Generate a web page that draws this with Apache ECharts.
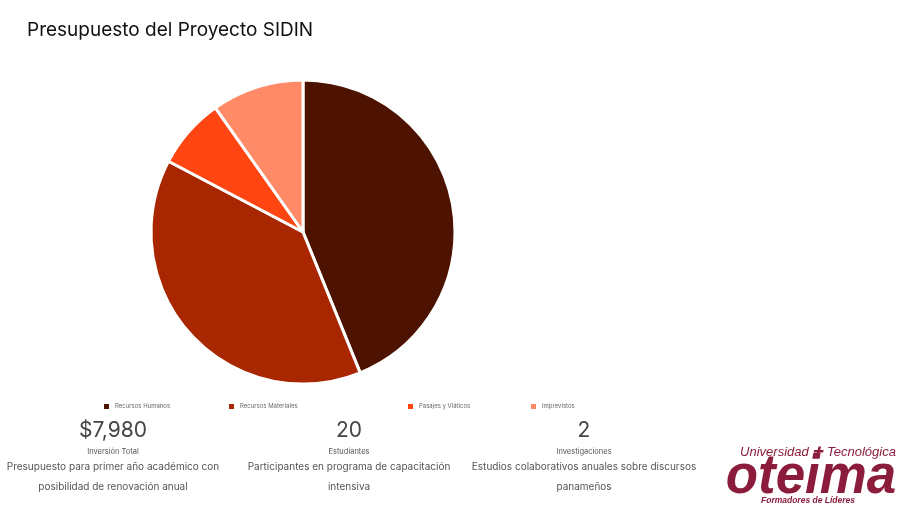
<!DOCTYPE html>
<html>
<head>
<meta charset="utf-8">
<script src="https://cdn.jsdelivr.net/npm/echarts@6/dist/echarts.min.js"></script>
<style>html,body{margin:0;padding:0;background:#fff}#main{width:900px;height:506px}</style>
</head>
<body>
<div id="main"></div>
<script>
var categories = ['Recursos Humanos', 'Recursos Materiales', 'Pasajes y Viáticos', 'Imprevistos'];
var values = [3500, 3100, 600, 780];
var colors = ['#4d1200', '#a82600', '#ff4512', '#ff8a68'];
var statNumbers = ['$7,980', '20', '2'];
var statLabels = ['Inversión Total', 'Estudiantes', 'Investigaciones'];
var statDesc = [
    ['Presupuesto para primer año académico con', 'posibilidad de renovación anual'],
    ['Participantes en programa de capacitación', 'intensiva'],
    ['Estudios colaborativos anuales sobre discursos', 'panameños']
];
var statX = [113, 349, 584];
var legendX = [102, 227, 406, 529];

var chart = echarts.init(document.getElementById('main'));

var legends = categories.map(function (c, i) {
    return {
        data: [c],
        left: legendX[i],
        top: 402,
        padding: 0,
        itemWidth: 7,
        itemHeight: 7,
        itemGap: 5,
        icon: 'rect',
        textStyle: { fontSize: 6, color: '#666', fontFamily: 'Inter' }
    };
});

var graphics = [];
statNumbers.forEach(function (n, i) {
    graphics.push({
        type: 'text', x: statX[i], y: 431,
        style: { text: n, fontSize: 21, fill: '#444', fontFamily: 'Inter', align: 'center', verticalAlign: 'middle' }
    });
    graphics.push({
        type: 'text', x: statX[i], y: 452,
        style: { text: statLabels[i], fontSize: 7.5, fill: '#555', fontFamily: 'Inter', align: 'center', verticalAlign: 'middle' }
    });
    statDesc[i].forEach(function (line, j) {
        graphics.push({
            type: 'text', x: statX[i], y: 467 + j * 20,
            style: { text: line, fontSize: 10, fill: '#555', fontFamily: 'Inter', align: 'center', verticalAlign: 'middle' }
        });
    });
});
// logo
var logoColor = '#8c1c3c';
graphics.push({
    type: 'text', x: 818, y: 452,
    style: { text: 'Universidad ✚ Tecnológica', fontSize: 13, fill: logoColor, fontStyle: 'italic', fontFamily: 'Liberation Sans', align: 'center', verticalAlign: 'middle' }
});
graphics.push({
    type: 'text', x: 811, y: 478, scaleX: 1.15, scaleY: 1.2,
    style: { text: 'oteima', fontSize: 46, fill: logoColor, fontStyle: 'italic', fontWeight: 'bold', fontFamily: 'Liberation Sans', align: 'center', verticalAlign: 'middle' }
});
graphics.push({
    type: 'text', x: 808, y: 501,
    style: { text: 'Formadores de Líderes', fontSize: 8.5, fill: logoColor, fontStyle: 'italic', fontWeight: 'bold', fontFamily: 'Liberation Sans', align: 'center', verticalAlign: 'middle' }
});

var option = {
    backgroundColor: '#fff',
    title: {
        text: 'Presupuesto del Proyecto SIDIN',
        left: 22, top: 16,
        textStyle: { fontSize: 19, fontWeight: 'normal', color: '#111', fontFamily: 'Inter' }
    },
    color: colors,
    legend: legends,
    series: [{
        type: 'pie',
        center: [303, 232],
        radius: 152,
        startAngle: 90,
        clockwise: true,
        label: { show: false },
        labelLine: { show: false },
        itemStyle: { borderColor: '#fff', borderWidth: 3 },
        data: categories.map(function (c, i) { return { name: c, value: values[i] }; })
    }],
    graphic: graphics
};
chart.setOption(option);
</script>
</body>
</html>
